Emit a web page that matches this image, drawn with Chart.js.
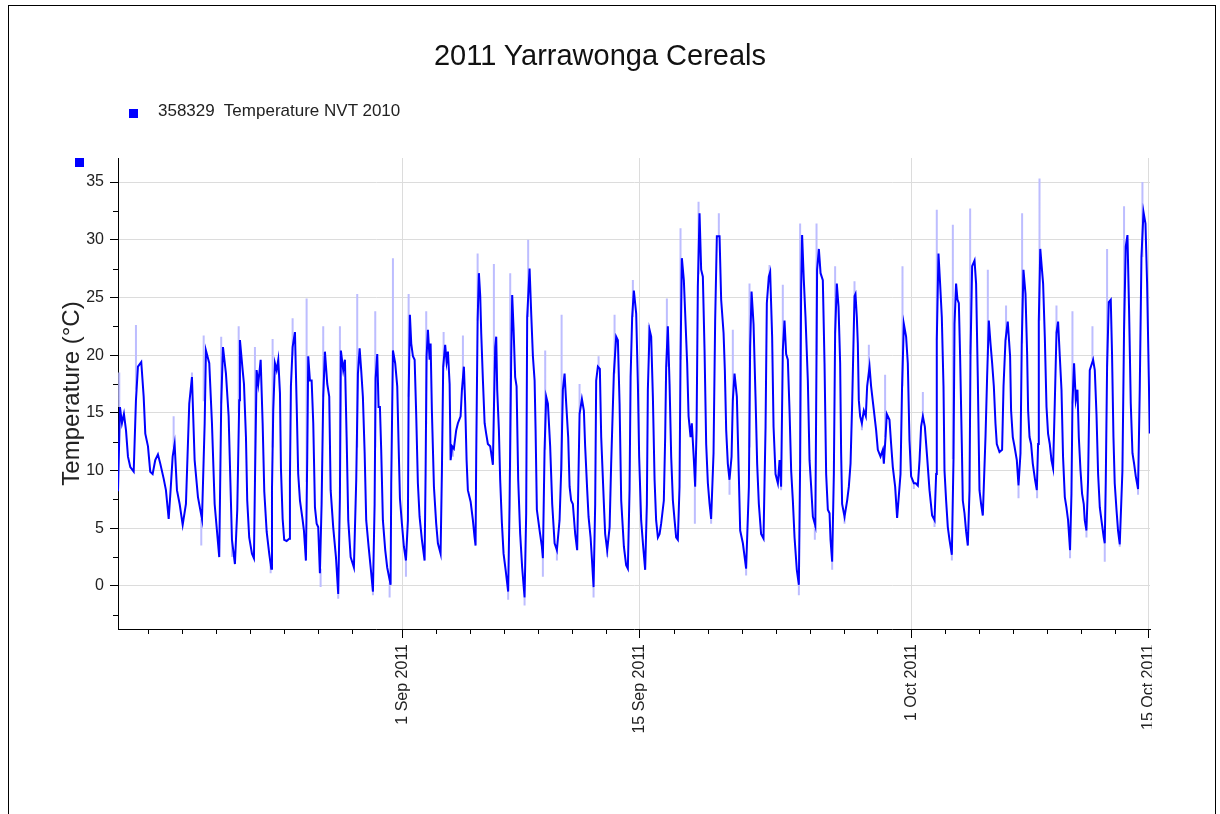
<!DOCTYPE html>
<html>
<head>
<meta charset="utf-8">
<script src="https://cdn.jsdelivr.net/npm/chart.js@4.4.1/dist/chart.umd.min.js"></script>
<style>
html,body{margin:0;padding:0;background:#fff;}
#wrap{position:relative;width:1220px;height:814px;overflow:hidden;font-family:"Liberation Sans",Arial,sans-serif;background:#fff;}
#frame{position:absolute;left:8px;top:5px;width:1206px;height:840px;border:1px solid #000;box-sizing:content-box;}
#title{position:absolute;left:0;top:41px;width:1200px;text-align:center;font-size:29px;line-height:29px;color:#111;}
#legendBox{position:absolute;left:129px;top:109px;width:9px;height:9px;background:#0000ff;}
#legendText{position:absolute;left:158px;top:102px;font-size:17px;line-height:17px;color:#222;white-space:pre;}
#axisMark{position:absolute;left:75px;top:158px;width:9px;height:9px;background:#0000ff;}
#clipMask{position:absolute;left:1152px;top:638px;width:40px;height:110px;background:#fff;}
canvas{position:absolute;left:0;top:0;}
</style>
</head>
<body>
<div id="wrap">
  <canvas id="c" width="1220" height="814"></canvas>
  <div id="clipMask"></div>
  <div id="frame"></div>
  <div id="title">2011 Yarrawonga Cereals</div>
  <div id="legendBox"></div>
  <div id="legendText">358329  Temperature NVT 2010</div>
  <div id="axisMark"></div>
</div>
<script>
// Time axis: hours since 15 Aug 2011 00:00
const hours = [5.7,8.5,11.3,14.1,17.0,19.8,23.1,27.9,31.1,33.9,38.6,42.0,44.3,48.1,51.3,54.7,58.4,62.2,65.5,70.3,73.5,77.4,80.2,83.0,85.8,89.1,92.9,97.2,101.8,106.5,110.3,114.1,118.8,124.5,128.3,130.1,134.8,138.6,142.4,148.9,151.7,154.2,158.4,162.2,166.9,171.1,
174.4,177.2,178.2,182.0,183.9,186.7,188.5,191.3,195.2,198.0,199.4,201.8,204.1,207.5,210.3,212.6,216.0,219.6,222.5,223.5,225.3,227.7,230.1,232.4,234.8,236.2,238.6,240.8,244.2,247.9,248.9,250.3,252.7,256.0,258.4,260.6,263.1,266.9,268.7,271.5,273.4,274.8,277.2,279.6,281.9,284.3,286.7,288.9,291.3,293.7,296.0,298.4,301.7,304.5,306.5,310.1,314.0,317.2,319.6,321.0,324.3,326.7,329.1,331.4,334.8,339.4,
342.7,345.1,347.5,349.7,352.1,354.6,356.8,360.2,363.9,366.3,368.7,370.1,372.4,374.3,376.2,378.0,380.4,383.7,386.5,391.3,392.2,394.6,397.8,400.7,402.6,404.5,407.3,410.1,413.0,415.8,416.8,418.6,420.5,422.9,425.3,427.5,429.9,432.3,435.6,439.4,440.8,442.2,444.1,446.5,447.9,449.7,452.6,455.8,458.2,462.0,463.9,465.7,468.5,470.5,472.4,474.8,476.2,478.4,480.8,484.1,486.5,490.3,492.2,495.0,496.8,498.8,500.6,504.5,507.7,510.1,511.5,
512.4,514.4,516.2,518.1,519.5,521.9,524.3,526.5,528.9,532.2,536.0,537.4,539.3,540.7,542.1,544.5,546.3,548.7,551.1,554.0,557.6,559.6,561.9,563.3,565.3,567.5,569.5,571.8,574.6,577.4,580.8,583.1,584.5,587.9,590.2,592.6,595.0,596.4,598.2,602.1,605.3,606.7,609.1,611.4,613.8,617.0,619.9,623.3,626.5,630.3,632.6,635.0,637.4,639.7,642.5,644.5,646.7,649.1,652.4,655.2,
658.6,661.9,664.7,666.5,669.4,671.3,674.2,676.0,678.4,680.7,682.1,684.5,687.3,689.2,693.0,694.8,697.7,701.1,703.3,707.1,710.4,712.8,715.2,717.5,721.3,724.5,726.9,729.3,730.8,733.0,735.4,738.7,741.1,742.9,745.7,748.6,751.4,753.8,755.2,757.6,759.9,762.3,764.7,766.9,769.4,771.8,774.0,777.8,779.7,781.1,783.5,785.9,788.2,790.6,793.0,795.2,797.6,800.0,801.4,803.3,806.1,808.0,810.8,812.8,815.6,817.4,820.3,822.1,824.1,825.9,
828.3,830.6,833.0,835.4,837.7,840.1,842.5,844.7,848.1,850.4,852.8,856.6,858.9,862.3,864.1,866.0,868.3,870.7,873.6,875.4,877.8,881.1,883.9,885.8,889.6,894.2,898.1,899.9,901.9,904.7,907.5,909.8,912.2,915.4,918.8,921.7,923.5,926.3,928.2,931.0,933.0,935.8,939.1,941.5,943.7,946.1,948.5,950.8,953.2,955.6,957.9,960.3,962.7,965.9,968.8,970.6,972.0,973.4,975.8,978.2,981.5,983.9,986.2,988.6,992.1,
993.2,994.6,997.1,999.5,1002.7,1005.1,1007.4,1009.8,1012.2,1013.6,1015.9,1018.3,1020.1,1022.5,1024.9,1027.2,1028.6,1030.0,1033.4,1037.1,1039.5,1041.9,1044.2,1047.5,1048.9,1050.8,1052.2,1053.6,1055.5,1057.9,1060.7,1063.5,1065.4,1068.8,1071.0,1073.8,1078.1,1080.5,1084.3,1087.6,1089.0,1091.4,1093.2,1097.0,1099.3,1101.7,1105.0,1107.8,1112.6,1114.8,1117.3,1120.5,1122.9,1125.3,1127.6,1131.4,1134.2,1137.1,1139.5,1141.7,1144.2,1147.0,1150.2,1153.6,
1157.3,1160.7,1163.0,1163.9,1166.3,1168.6,1171.0,1173.4,1174.8,1177.1,1179.5,1181.9,1185.2,1187.6,1189.0,1191.2,1193.2,1195.1,1196.9,1199.3,1200.7,1203.1,1205.4,1207.8,1210.2,1211.6,1213.9,1217.3,1219.5,1221.9,1224.3,1226.6,1229.0,1232.8,1235.1,1237.5,1239.9,1242.2,1244.6,1246.9,1248.8,1252.6,1256.3,1258.3,1261.1,1264.3,1267.6,1269.0,1271.4,1273.8,1277.1,1279.5,1282.3,1284.1,1286.5,1289.4,1291.7,1293.1,1295.1,1297.3,1299.7,1302.9,1305.4,
1307.2,1308.2,1310.3,1312.0,1314.3,1316.7,1319.1,1321.3,1323.7,1326.1,1328.4,1330.8,1333.2,1335.5,1337.9,1340.3,1342.5,1345.0,1347.3,1349.6,1352.4,1354.4,1355.8,1358.1,1360.5,1362.9,1364.8,1367.2,1369.4,1371.8,1373.2,1375.6,1377.9,1380.3,1385.0,1387.4,1389.8,1392.1,1394.5,1396.8,1400.1,1401.5,1402.9,1404.8,1407.2,1410.0,1411.8,1413.8,1415.6,1418.1,1420.3,1422.7,1426.5,1428.8,1431.2,1433.6,1435.9,1438.3,1440.7,1443.0,1445.4,1448.6,1451.0,1453.4,1456.3,1459.1,1461.4,1463.8,1465.2];

const temps = [8.2,15.5,14.1,14.9,13.5,11.2,10.3,9.9,16.1,19.0,19.4,16.4,13.2,12.1,9.9,9.7,10.9,11.4,10.6,9.3,8.3,5.8,8.4,11.2,12.3,8.3,7.1,5.3,7.1,15.8,18.1,10.9,7.7,5.8,14.1,20.4,19.3,14.1,7.1,2.5,15.8,20.7,18.4,14.7,4.0,1.9,
6.6,16.1,21.3,18.7,17.5,12.9,7.4,4.2,2.8,2.4,8.9,18.7,17.5,19.6,14.1,8.2,4.7,2.8,1.5,8.3,15.2,19.3,18.7,19.6,16.7,10.2,5.8,4.0,3.9,4.1,9.2,17.3,20.7,22.0,15.8,9.7,7.4,5.7,4.8,2.2,11.2,19.9,17.8,17.8,14.1,6.8,5.4,5.1,1.1,7.1,16.4,20.3,17.5,16.4,8.3,5.1,2.5,-0.7,7.7,20.4,18.7,19.6,12.9,5.7,2.5,1.6,
9.2,18.4,20.6,18.7,16.4,11.5,5.7,3.4,1.1,-0.5,7.1,18.0,20.1,15.5,15.5,11.8,5.7,3.1,1.6,0.1,8.9,20.4,19.3,17.3,12.3,7.6,5.4,3.4,2.2,5.7,16.4,23.5,21.0,19.9,19.6,14.9,8.9,6.0,4.0,2.2,9.7,19.9,22.2,19.6,21.0,15.2,8.6,5.4,3.7,2.8,10.0,19.0,20.9,19.4,20.3,17.5,10.9,12.1,11.9,13.5,14.1,14.7,17.0,19.0,15.8,10.9,8.3,7.3,5.7,4.2,3.5,
11.2,23.0,27.1,25.1,21.9,17.8,14.1,13.2,12.3,12.1,10.5,15.2,20.7,21.6,17.0,13.5,9.2,5.5,2.8,1.4,-0.5,7.1,19.9,25.2,22.2,18.1,17.3,9.2,4.5,1.6,-1.0,6.3,23.3,27.5,23.6,19.9,17.8,13.5,6.6,4.8,3.4,2.4,11.8,16.4,15.8,12.1,7.1,3.7,3.1,5.7,10.0,17.0,18.4,15.8,12.9,8.6,7.4,7.1,4.5,3.1,
14.9,16.2,15.2,12.1,8.3,6.0,4.2,2.4,-0.1,7.1,17.8,19.0,18.8,12.9,7.1,4.5,3.1,5.1,10.6,18.4,21.6,21.3,15.8,7.4,3.4,1.8,1.5,8.3,18.1,23.3,25.6,23.6,17.5,11.2,5.7,3.4,1.4,7.1,17.0,22.2,21.6,16.4,9.2,5.7,4.2,4.5,5.4,7.4,12.9,19.0,22.5,17.5,11.2,7.4,5.7,4.2,4.0,8.6,19.6,28.4,26.5,23.6,19.3,14.7,12.9,14.1,10.9,8.6,13.5,25.9,
32.3,27.4,26.8,20.4,12.3,8.9,7.1,5.8,11.5,23.0,30.3,30.3,24.8,21.9,18.7,13.5,10.6,9.2,11.2,16.1,18.4,16.4,9.5,4.8,3.7,1.5,8.6,20.7,25.5,22.7,16.4,10.6,7.1,4.5,4.1,13.8,24.5,26.8,27.2,21.6,13.8,9.7,8.9,10.9,8.6,20.4,23.0,20.1,19.6,15.2,10.0,7.4,4.2,1.4,0.1,10.6,25.6,30.4,26.5,23.3,17.8,10.9,8.6,6.0,5.2,
14.7,27.4,29.2,27.1,26.5,19.3,9.7,6.6,6.3,4.0,2.1,9.7,21.9,26.2,24.2,19.3,11.5,7.1,6.0,7.4,8.6,10.6,15.8,25.1,25.3,23.3,21.0,16.1,14.7,14.1,15.2,14.7,17.3,19.0,17.3,15.8,13.5,11.8,11.2,11.8,10.6,12.9,14.9,14.4,12.3,10.3,8.6,5.9,9.7,17.3,22.7,21.6,19.3,12.6,9.5,8.9,8.9,8.7,10.9,13.8,14.7,13.8,11.2,8.3,
6.1,5.7,9.7,21.3,28.8,26.2,23.3,17.3,10.0,7.4,5.1,4.0,2.7,11.2,22.7,26.2,24.8,24.5,19.9,12.3,7.4,6.3,4.7,3.5,8.3,20.1,27.7,28.2,26.2,18.1,8.3,7.1,6.1,12.9,18.1,23.0,21.0,19.3,17.3,14.1,12.3,11.6,11.8,17.3,21.3,22.9,19.9,15.2,12.9,12.1,10.9,8.7,11.5,21.0,27.4,25.3,20.1,15.2,12.9,12.3,10.6,9.2,8.3,
12.3,23.0,29.2,27.9,26.2,21.6,15.5,13.2,12.3,10.9,10.2,15.8,21.9,22.9,19.9,17.0,11.2,7.7,6.8,5.7,3.1,8.0,15.8,19.3,16.1,17.0,12.9,10.0,8.0,7.1,5.7,4.8,9.2,18.7,19.6,18.7,14.9,9.7,6.8,5.7,4.2,3.7,8.9,19.0,24.6,24.8,20.1,12.9,8.9,6.6,4.8,3.6,10.0,22.2,29.4,30.4,23.9,15.8,11.5,10.6,9.5,8.4,17.0,28.5,32.4,31.4,26.2,18.1,13.2];

// Short-interval extremes (lighter trace): hour, low, high
const spikeHours = [7.5,31.1,84.4,110.3,126.9,151.7,176.4,199.4,224.4,252.7,272.5,296.0,319.6,344.1,369.6,394.6,416.8,441.7,466.3,493.6,514.4,537.4,560.5,585.9,610.0,633.2,658.6,685.5,708.1,734.0,756.6,782.1,801.4,826.9,855.6,875.4,899.0,927.3,946.1,970.6,993.8,1020.1,1047.5,1067.8,1090.8,1115.4,1144.2,1163.9,1186.6,1211.1,1236.1,1261.9,1284.6,1309.2,1333.2,1355.8,1384.1,1404.8,1428.8,1454.8,
123.5,166.9,221.6,292.3,317.2,366.3,389.9,413.0,479.4,557.6,580.8,606.7,626.5,678.4,697.7,821.7,844.7,870.7,894.2,943.7,968.8,991.4,1015.9,1033.4,1057.9,1131.4,1160.7,1185.2,1279.5,1305.8,1328.4,1352.4,1375.6,1401.5,1422.7,1448.6];
const spikeLows = [15.5,17.0,12.0,17.5,16.0,15.8,15.0,9.0,12.0,20.0,9.0,16.4,8.0,12.0,12.0,20.0,16.4,14.0,19.0,17.0,23.0,15.2,10.0,23.3,11.8,10.0,14.9,18.8,18.4,23.3,20.0,19.0,19.6,27.0,30.3,16.1,12.0,26.8,20.4,10.6,20.0,21.9,25.1,18.0,12.9,17.3,14.7,21.3,11.0,20.1,20.0,21.3,21.0,23.0,21.9,15.8,19.6,19.0,22.2,28.5,
3.5,2.5,1.1,-0.1,-1.1,-0.8,-1.0,0.8,11.2,-1.2,-1.7,0.8,2.2,-1.0,2.5,5.4,5.4,7.9,0.9,8.3,-0.8,4.0,1.4,5.4,13.5,8.4,5.1,2.2,7.6,7.6,10.0,2.4,4.2,2.1,3.4,7.9];
const spikeHighs = [18.5,22.6,14.7,18.5,21.7,21.6,22.5,20.7,21.4,23.2,24.9,22.5,22.5,25.3,23.8,28.4,25.3,23.8,22.0,21.7,28.8,27.9,27.1,30.0,20.4,23.5,17.5,19.9,23.5,26.5,22.6,24.9,31.0,33.3,32.3,22.2,26.2,27.8,26.1,31.4,31.4,27.7,26.4,20.9,18.3,27.7,16.8,32.6,31.3,32.7,27.4,24.3,32.3,35.3,24.3,23.8,22.5,29.2,32.9,35.0,
5.8,4.0,1.8,1.5,-0.7,-0.5,0.3,2.2,12.0,-0.5,-1.0,2.4,3.1,-0.1,3.1,8.6,5.8,9.2,1.5,8.6,0.1,5.2,2.1,6.0,14.1,8.9,5.7,2.7,8.7,8.3,10.2,3.1,4.8,3.7,3.6,8.4];

// Axis ticks
const xTickHours = [408, 744, 1128, 1464];
const xTickLabels = ["1 Sep 2011", "15 Sep 2011", "1 Oct 2011", "15 Oct 2011"];
const xMinorTickHours = [48,96,144,192,240,288,336,456,504,552,600,648,696,792,840,888,936,984,1032,1080,1176,1224,1272,1320,1368,1416];
const yTickValues = [0,5,10,15,20,25,30,35];
const yMinorTickValues = [-2.5,2.5,7.5,12.5,17.5,22.5,27.5,32.5];

const darkPts = hours.map((h,i)=>({x:h, y:temps[i]}));
const lightPts = [];
spikeHours.forEach((h,i)=>{
  lightPts.push({x:h, y:spikeLows[i]});
  lightPts.push({x:h, y:spikeHighs[i]});
  lightPts.push({x:h, y:null});
});

const minorTicks = {
  id:'minorTicks',
  afterDraw(chart){
    const {ctx, chartArea:a, scales:{x, y}} = chart;
    ctx.save();
    ctx.strokeStyle = '#000';
    ctx.lineWidth = 1;
    ctx.beginPath();
    xMinorTickHours.forEach(h=>{
      const px = Math.round(x.getPixelForValue(h)) + 0.5;
      ctx.moveTo(px, a.bottom); ctx.lineTo(px, a.bottom + 5);
    });
    yMinorTickValues.forEach(v=>{
      const py = Math.round(y.getPixelForValue(v)) + 0.5;
      ctx.moveTo(a.left - 5, py); ctx.lineTo(a.left, py);
    });
    ctx.stroke();
    ctx.restore();
  }
};

const tickFont = {family:'"Liberation Sans", Arial, sans-serif', size:16};

new Chart(document.getElementById('c'), {
  type:'line',
  data:{datasets:[
    {label:'358329 Temperature NVT 2010', data:darkPts, borderColor:'#0000ff', borderWidth:2, pointRadius:0, tension:0, order:1},
    {label:'extremes', data:lightPts, borderColor:'#bdbdff', borderWidth:2, pointRadius:0, tension:0, spanGaps:false, order:2}
  ]},
  options:{
    responsive:false, animation:false, events:[],
    layout:{padding:{left:0, top:158, right:70, bottom:0}},
    plugins:{legend:{display:false}, title:{display:false}, tooltip:{enabled:false}},
    scales:{
      x:{
        type:'linear', min:5.7, max:1465.5,
        afterBuildTicks:s=>{ s.ticks = xTickHours.map(v=>({value:v})); },
        afterFit:s=>{ s.height = 185; },
        grid:{color:'#dcdcdc', tickColor:'#000', tickLength:9, lineWidth:1},
        border:{color:'#000', width:1},
        ticks:{autoSkip:false, minRotation:90, maxRotation:90, padding:6, color:'#222', font:tickFont,
          callback:(v)=>{ const i = xTickHours.indexOf(v); return i>=0 ? xTickLabels[i] : ''; }}
      },
      y:{
        min:-3.73, max:37.08,
        afterBuildTicks:s=>{ s.ticks = yTickValues.map(v=>({value:v})); },
        afterFit:s=>{ s.width = 118; },
        grid:{color:'#dcdcdc', tickColor:'#000', tickLength:8, lineWidth:1},
        border:{color:'#000', width:1},
        ticks:{padding:6, color:'#222', font:tickFont},
        title:{display:true, text:'Temperature (°C)', color:'#222', padding:{top:58, bottom:0},
          font:{family:'"Liberation Sans", Arial, sans-serif', size:24}}
      }
    }
  },
  plugins:[minorTicks]
});
</script>
</body>
</html>
